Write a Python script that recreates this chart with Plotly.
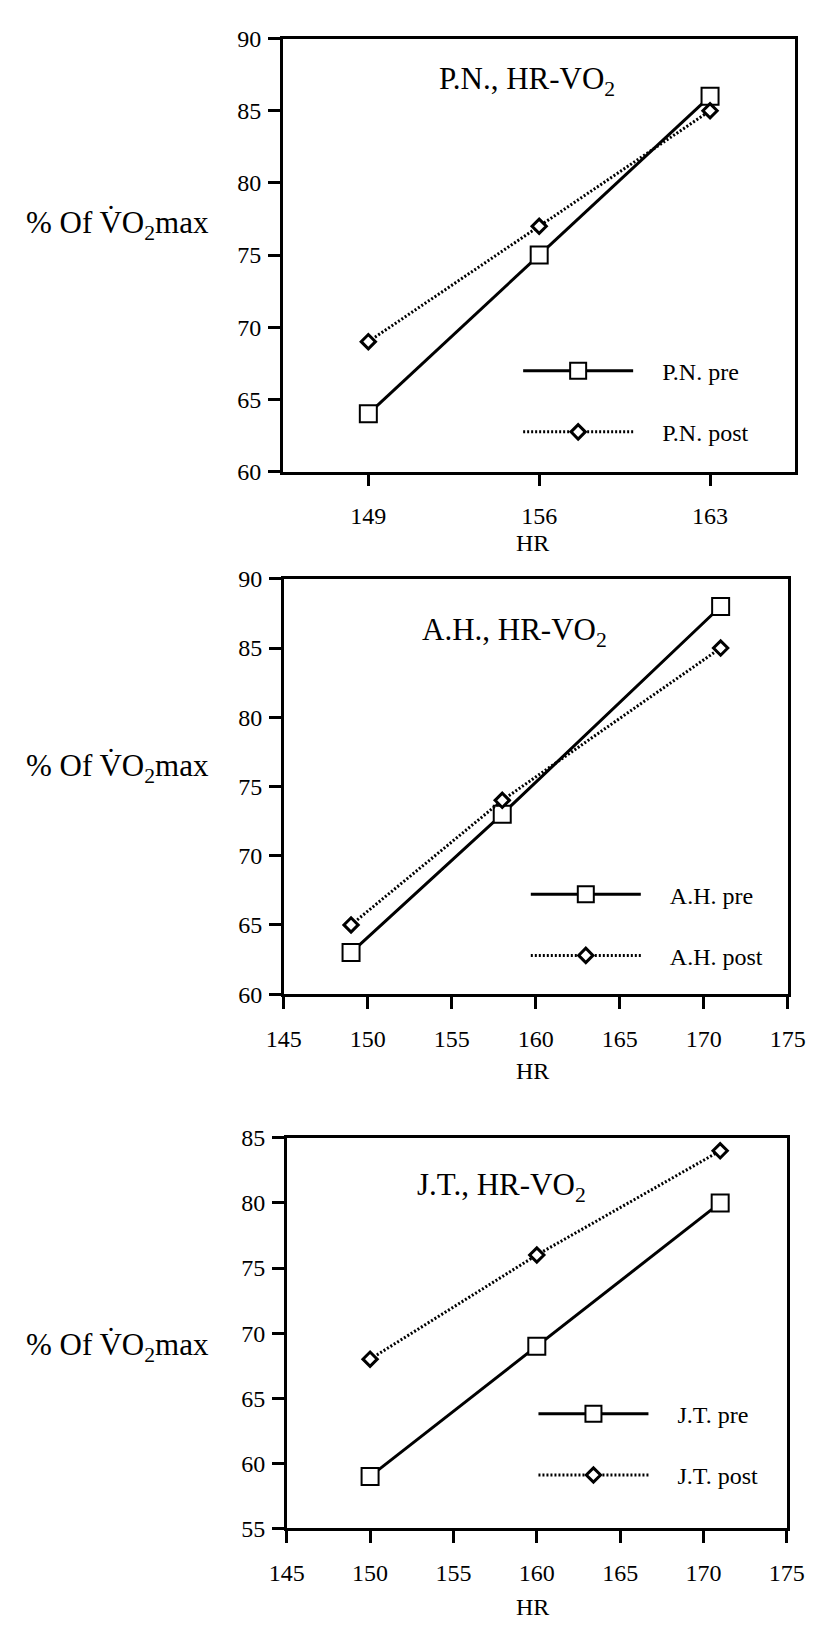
import plotly.graph_objects as go

W, H = 824, 1632

# ---------------- data ----------------
pn_hr = [149, 156, 163]
pn_pre = [64, 75, 86]
pn_post = [69, 77, 85]

ah_hr = [149, 158, 171]
ah_pre = [63, 73, 88]
ah_post = [65, 74, 85]

jt_hr = [150, 160, 171]
jt_pre = [59, 69, 80]
jt_post = [68, 76, 84]

pn_xticks = [149, 156, 163]
hr_xticks = [145, 150, 155, 160, 165, 170, 175]
y_ticks_90 = [60, 65, 70, 75, 80, 85, 90]
y_ticks_85 = [55, 60, 65, 70, 75, 80, 85]

FONT = "Liberation Serif, Times New Roman, serif"
NB = "\u00a0"


def px_x(p):
    return p / W


def px_y(p):
    return 1 - p / H


# panel boxes in pixels (left, right, top, bottom)
boxes = [
    (277, 813, 26, 466),
    (278, 805, 575, 997),
    (281, 804, 1143, 1540),
]

fig = go.Figure()

panels = [
    ("P.N.", pn_hr, pn_pre, pn_post, "legend"),
    ("A.H.", ah_hr, ah_pre, ah_post, "legend2"),
    ("J.T.", jt_hr, jt_pre, jt_post, "legend3"),
]

for i, (name, hr, pre, post, leg) in enumerate(panels):
    xa = "x" if i == 0 else f"x{i+1}"
    ya = "y" if i == 0 else f"y{i+1}"
    fig.add_trace(go.Scatter(
        x=hr, y=pre, mode="lines+markers", name=NB * 4 + f"{name} pre",
        xaxis=xa, yaxis=ya, legend=leg, legendgroup=f"{name}pre",
        line=dict(color="black", width=3),
        marker=dict(symbol="square", size=17, color="white",
                    line=dict(color="black", width=2)),
    ))
    fig.add_trace(go.Scatter(
        x=hr, y=post, mode="lines+markers", name=NB * 4 + f"{name} post",
        xaxis=xa, yaxis=ya, legend=leg, legendgroup=f"{name}post",
        line=dict(color="black", width=3, dash="2px,2px"),
        marker=dict(symbol="diamond", size=11, color="white",
                    line=dict(color="black", width=3)),
    ))

axis_common = dict(
    showline=True, linecolor="black", linewidth=2.5, mirror=True,
    ticks="outside", ticklen=12, tickwidth=2.5, tickcolor="black",
    showgrid=False, zeroline=False,
    tickfont=dict(family=FONT, size=24, color="black"),
)

layout = dict(
    width=W, height=H,
    margin=dict(l=0, r=0, t=0, b=0),
    paper_bgcolor="white", plot_bgcolor="white",
    showlegend=True,
)

x_ranges = [(145.5, 166.5), (145, 175), (145, 175)]
x_tickvals = [pn_xticks, hr_xticks, hr_xticks]
y_ranges = [(60, 90), (60, 90), (55, 85)]
y_tickvals = [y_ticks_90, y_ticks_90, y_ticks_85]

for i, (l, r, t, b) in enumerate(boxes):
    xk = "xaxis" if i == 0 else f"xaxis{i+1}"
    yk = "yaxis" if i == 0 else f"yaxis{i+1}"
    ya = "y" if i == 0 else f"y{i+1}"
    xa = "x" if i == 0 else f"x{i+1}"
    layout[xk] = dict(axis_common, domain=[px_x(l), px_x(r)],
                      range=list(x_ranges[i]), tickvals=x_tickvals[i],
                      anchor=ya, ticklabelstandoff=9)
    layout[yk] = dict(axis_common, domain=[px_y(b), px_y(t)],
                      range=list(y_ranges[i]), tickvals=y_tickvals[i],
                      anchor=xa, ticklabelstandoff=2)

fig.update_layout(**layout)

# legends (left edge px, first item centre px)
legend_pos = [(523, 358), (531, 890), (539, 1418)]
for i, (lx, ly) in enumerate(legend_pos):
    key = "legend" if i == 0 else f"legend{i+1}"
    fig.update_layout(**{key: dict(
        x=px_x(lx), y=px_y(ly - 17), xanchor="left", yanchor="top",
        bgcolor="rgba(0,0,0,0)", borderwidth=0,
        font=dict(family=FONT, size=24, color="black"),
        tracegroupgap=27, itemwidth=110, traceorder="grouped",
    )})

# panel titles
titles = [("P.N., HR-VO<sub>2</sub>", 532, 69),
          ("A.H., HR-VO<sub>2</sub>", 519, 629),
          ("J.T., HR-VO<sub>2</sub>", 506, 1193)]
for txt, x, y in titles:
    fig.add_annotation(text=txt, x=px_x(x), y=px_y(y), xref="paper", yref="paper",
                       xanchor="center", yanchor="middle", showarrow=False,
                       font=dict(family=FONT, size=31, color="black"))

# y-axis titles (horizontal, left of each panel)
ytitle_y = [211, 763, 1352]
for y in ytitle_y:
    fig.add_annotation(text="% Of V\u0307O<sub>2</sub>max", x=px_x(6), y=px_y(y + 4),
                       xref="paper", yref="paper", xanchor="left", yanchor="middle",
                       showarrow=False, font=dict(family=FONT, size=31, color="black"))

# x-axis titles
hr_y = [539, 1075, 1620]
for y in hr_y:
    fig.add_annotation(text="HR", x=px_x(538), y=px_y(y), xref="paper", yref="paper",
                       xanchor="center", yanchor="middle", showarrow=False,
                       font=dict(family=FONT, size=24, color="black"))

fig.write_html("out.html")
